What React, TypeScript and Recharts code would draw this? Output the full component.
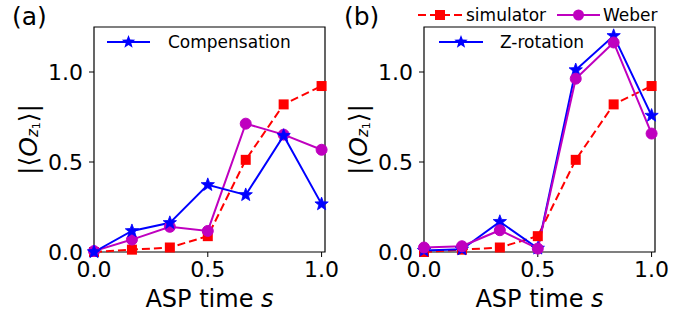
import React from 'react';
import { LineChart, Line, XAxis, YAxis, ReferenceArea } from 'recharts';

// ASP time s (x positions)
const sValues = [0, 0.1667, 0.3333, 0.5, 0.6667, 0.8333, 1.0];
// simulator (red squares, dashed) – same in both panels
const simulator = [0.0, 0.013, 0.025, 0.088, 0.512, 0.82, 0.922];
// panel (a)
const weberA = [0.005, 0.069, 0.14, 0.117, 0.713, 0.652, 0.568];
const compensationA = [0.0, 0.117, 0.162, 0.373, 0.317, 0.646, 0.266];
// panel (b)
const weberB = [0.025, 0.032, 0.121, 0.019, 0.963, 1.164, 0.658];
const zRotationB = [0.008, 0.015, 0.168, 0.02, 1.011, 1.201, 0.758];

const xTicks = [0, 0.5, 1.0];
const yTicks = [0, 0.5, 1.0];

const dataA = sValues.map((s, i) => ({ s, sim: simulator[i], weber: weberA[i], third: compensationA[i] }));
const dataB = sValues.map((s, i) => ({ s, sim: simulator[i], weber: weberB[i], third: zRotationB[i] }));

const FONT = 'DejaVu Sans';
const RED = '#ff0000';
const PURPLE = '#bf00bf';
const BLUE = '#0000ff';

function starPoints(cx: number, cy: number, R: number) {
  const r = R * 0.42;
  const pts: string[] = [];
  for (let k = 0; k < 10; k++) {
    const ang = -Math.PI / 2 + (k * Math.PI) / 5;
    const rad = k % 2 === 0 ? R : r;
    pts.push(`${cx + rad * Math.cos(ang)},${cy + rad * Math.sin(ang)}`);
  }
  return pts.join(' ');
}

const starDot = (p: any) => (
  <polygon key={`st-${p.index}`} points={starPoints(p.cx, p.cy, 7)} fill={BLUE} stroke={BLUE} strokeWidth={0.8} />
);
const squareDot = (p: any) => (
  <rect key={`sq-${p.index}`} x={p.cx - 5} y={p.cy - 5} width={10} height={10} fill={RED} />
);

const YLabel = (props: any) => {
  const vb = props.viewBox;
  const cx = vb.x - 16;
  const cy = vb.y + vb.height / 2;
  return (
    <text
      x={cx}
      y={cy}
      transform={`rotate(-90, ${cx}, ${cy})`}
      textAnchor="middle"
      dominantBaseline="central"
      fontFamily={FONT}
      fontSize={25}
      fill="#000"
    >
      <tspan>|⟨</tspan>
      <tspan fontStyle="italic">O</tspan>
      <tspan fontStyle="italic" fontSize={15} dy={5}>z</tspan>
      <tspan fontSize={11} dy={3}>1</tspan>
      <tspan fontSize={25} dy={-8}>⟩|</tspan>
    </text>
  );
};

const XLabel = (props: any) => {
  const vb = props.viewBox;
  return (
    <text x={vb.x + vb.width / 2} y={vb.y + 55} textAnchor="middle" fontFamily={FONT} fontSize={24} fill="#000">
      ASP time <tspan fontStyle="italic">s</tspan>
    </text>
  );
};

const tickStyle = { fontFamily: FONT, fontSize: 22, fill: '#000' };

const LegendA = () => (
  <svg width={220} height={30} style={{ display: 'block' }}>
    <line x1={7} y1={14} x2={50} y2={14} stroke={BLUE} strokeWidth={2} />
    <polygon points={starPoints(28.5, 14, 7)} fill={BLUE} />
    <text x={68} y={14} dominantBaseline="central" fontFamily={FONT} fontSize={17} fill="#000">Compensation</text>
  </svg>
);

const LegendB = () => (
  <svg width={270} height={60} style={{ display: 'block' }}>
    <line x1={8} y1={15} x2={52} y2={15} stroke={RED} strokeWidth={2} strokeDasharray="8 4" />
    <rect x={25} y={10} width={10} height={10} fill={RED} />
    <text x={56} y={15} dominantBaseline="central" fontFamily={FONT} fontSize={17} fill="#000">simulator</text>
    <line x1={147} y1={15} x2={190} y2={15} stroke={PURPLE} strokeWidth={2} />
    <circle cx={168.5} cy={15} r={5.5} fill={PURPLE} />
    <text x={193} y={15} dominantBaseline="central" fontFamily={FONT} fontSize={17} fill="#000">Weber</text>
    <line x1={29} y1={42} x2={73} y2={42} stroke={BLUE} strokeWidth={2} />
    <polygon points={starPoints(51, 42, 7)} fill={BLUE} />
    <text x={90} y={42} dominantBaseline="central" fontFamily={FONT} fontSize={17} fill="#000">Z-rotation</text>
  </svg>
);

function Panel(props: { data: any[]; width: number; margin: any; thirdOnTop: boolean }) {
  const { data, width, margin, thirdOnTop } = props;
  const simLine = (
    <Line key="sim" dataKey="sim" stroke={RED} strokeWidth={2} strokeDasharray="8 4" dot={squareDot} activeDot={false} isAnimationActive={false} />
  );
  const weberLine = (
    <Line key="weber" dataKey="weber" stroke={PURPLE} strokeWidth={2} dot={{ r: 5.5, fill: PURPLE, stroke: PURPLE, strokeWidth: 1 }} activeDot={false} isAnimationActive={false} />
  );
  const thirdLine = (
    <Line key="third" dataKey="third" stroke={BLUE} strokeWidth={2} dot={starDot} activeDot={false} isAnimationActive={false} />
  );
  return (
    <LineChart width={width} height={322} data={data} margin={margin}>
      <XAxis
        dataKey="s"
        type="number"
        domain={[0, 1.015]}
        ticks={xTicks}
        tickFormatter={(v: number) => v.toFixed(1)}
        tick={tickStyle}
        tickSize={5}
        tickMargin={4}
        height={60}
        stroke="#000"
        axisLine={false}
        label={<XLabel />}
      />
      <YAxis
        type="number"
        domain={[0, 1.25]}
        ticks={yTicks}
        tickFormatter={(v: number) => v.toFixed(1)}
        tick={tickStyle}
        tickSize={5}
        tickMargin={6}
        width={50}
        stroke="#000"
        axisLine={false}
        label={<YLabel />}
      />
      {simLine}
      {thirdOnTop ? weberLine : thirdLine}
      {thirdOnTop ? thirdLine : weberLine}
      <ReferenceArea x1={0} x2={1.015} y1={0} y2={1.25} fill="none" fillOpacity={0} stroke="#000" strokeWidth={1.2} ifOverflow="visible" />
    </LineChart>
  );
}

export default function App() {
  return (
    <div style={{ position: 'absolute', left: 0, top: 0, width: 693, height: 322, background: '#fff', fontFamily: FONT }}>
      <div style={{ position: 'absolute', left: 0, top: 0 }}>
        <Panel data={dataA} width={340} margin={{ top: 27, right: 15, bottom: 10, left: 44 }} thirdOnTop={true} />
      </div>
      <div style={{ position: 'absolute', left: 340, top: 0 }}>
        <Panel data={dataB} width={353} margin={{ top: 27, right: 38, bottom: 10, left: 34 }} thirdOnTop={false} />
      </div>
      <div style={{ position: 'absolute', left: 100, top: 28 }}>
        <LegendA />
      </div>
      <div style={{ position: 'absolute', left: 410, top: 0 }}>
        <LegendB />
      </div>
      <div style={{ position: 'absolute', left: 12, top: 2, fontSize: 25, fontFamily: FONT, color: '#000' }}>(a)</div>
      <div style={{ position: 'absolute', left: 344, top: 2, fontSize: 25, fontFamily: FONT, color: '#000' }}>(b)</div>
    </div>
  );
}
